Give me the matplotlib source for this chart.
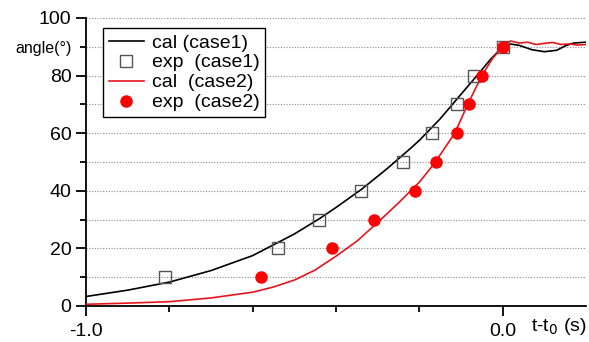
import matplotlib
matplotlib.use("Agg")
import matplotlib.pyplot as plt
from matplotlib.ticker import MultipleLocator, FixedLocator, FixedFormatter

plt.rcParams['font.family'] = ['Liberation Sans', 'DejaVu Sans']

# calculated curve, case 1 (black)
cal1_t = [-1.0, -0.9, -0.8, -0.7, -0.6, -0.5, -0.44, -0.4, -0.338, -0.278,
          -0.223, -0.2, -0.15, -0.1, -0.05, -0.03, 0.0, 0.017, 0.04, 0.07, 0.1,
          0.13, 0.15, 0.17, 0.2]
cal1_a = [3.3, 5.5, 8.3, 12.3, 17.5, 25.0, 30.3, 34.2, 40.6, 47.6,
          54.5, 57.5, 65.0, 73.5, 82.0, 85.5, 90.0, 91.0, 90.5, 89.0, 88.3,
          88.8, 90.3, 91.3, 91.6]

# calculated curve, case 2 (red)
cal2_t = [-1.0, -0.9, -0.8, -0.7, -0.6, -0.55, -0.5, -0.45, -0.4, -0.35, -0.3,
          -0.25, -0.2, -0.175, -0.15, -0.115, -0.084, -0.05, -0.024, 0.0, 0.01,
          0.02, 0.04, 0.06, 0.08, 0.1, 0.12, 0.14, 0.16, 0.18, 0.2]
cal2_a = [0.6, 1.0, 1.5, 2.8, 4.8, 6.6, 9.0, 12.5, 17.3, 22.5, 29.0,
          35.8, 43.0, 47.5, 52.5, 60.0, 70.0, 80.0, 86.0, 90.0, 91.5,
          92.0, 91.3, 91.6, 90.8, 91.2, 91.5, 90.8, 91.0, 90.6, 90.8]

# experimental points
exp1_t = [-0.81, -0.54, -0.44, -0.34, -0.24, -0.17, -0.11, -0.07, 0.0]
exp1_a = [10, 20, 30, 40, 50, 60, 70, 80, 90]
exp2_t = [-0.58, -0.41, -0.31, -0.21, -0.16, -0.11, -0.08, -0.05, 0.0]
exp2_a = [10, 20, 30, 40, 50, 60, 70, 80, 90]

labels = ['cal (case1)', 'exp  (case1)', 'cal  (case2)', 'exp  (case2)']

fig = plt.figure(figsize=(5.89, 3.42), dpi=100)
ax = fig.add_axes([86/589, 36/342, 500/589, 288/342])

for y in range(10, 101, 10):
    ax.axhline(y, color='#888888', lw=0.8, ls=(0, (1, 1.5)), zorder=0)

ax.plot(cal1_t, cal1_a, color='black', lw=1.2, label=labels[0], zorder=3)
ax.plot(exp1_t, exp1_a, ls='none', marker='s', ms=8, mfc='none', mec='#555555',
        mew=1.0, label=labels[1], zorder=4)
ax.plot(cal2_t, cal2_a, color='#e8141c', lw=1.2, label=labels[2], zorder=3)
ax.plot(exp2_t, exp2_a, ls='none', marker='o', ms=8, color='#ff0000',
        label=labels[3], zorder=5)

ax.set_xlim(-1.0, 0.2)
ax.set_ylim(0, 100)

ax.spines['top'].set_visible(False)
ax.spines['right'].set_visible(False)
ax.spines['left'].set_linewidth(1.3)
ax.spines['bottom'].set_linewidth(1.3)

ax.xaxis.set_major_locator(FixedLocator([-1.0, 0.0]))
ax.xaxis.set_major_formatter(FixedFormatter(['-1.0', '0.0']))
ax.xaxis.set_minor_locator(FixedLocator([-0.8, -0.6, -0.4, -0.2]))
ax.yaxis.set_major_locator(MultipleLocator(20))
ax.yaxis.set_minor_locator(FixedLocator([10, 30, 50, 70, 90]))
ax.yaxis.set_minor_formatter(FixedFormatter(['', '', '', '', 'angle(°)']))

ax.tick_params(which='major', direction='out', length=7.5, width=1.3,
               labelsize=14, pad=3)
ax.tick_params(which='minor', direction='out', length=4.5, width=1.3, pad=3)
ax.tick_params(axis='y', which='minor', labelsize=11.5, pad=6)
ax.tick_params(axis='x', which='major', pad=5)

ax.text(0.067, -7.0, 't-t$_0$ (s)', fontsize=14, ha='left', va='center',
        clip_on=False)

leg = ax.legend(loc='upper left', bbox_to_anchor=(0.034, 0.965), fontsize=14,
                frameon=True, fancybox=False, edgecolor='black', framealpha=1,
                handlelength=1.8, handletextpad=0.4, labelspacing=0.12,
                borderpad=0.3, borderaxespad=0)
leg.get_frame().set_linewidth(1.0)

fig.savefig('out.png', dpi=100)
